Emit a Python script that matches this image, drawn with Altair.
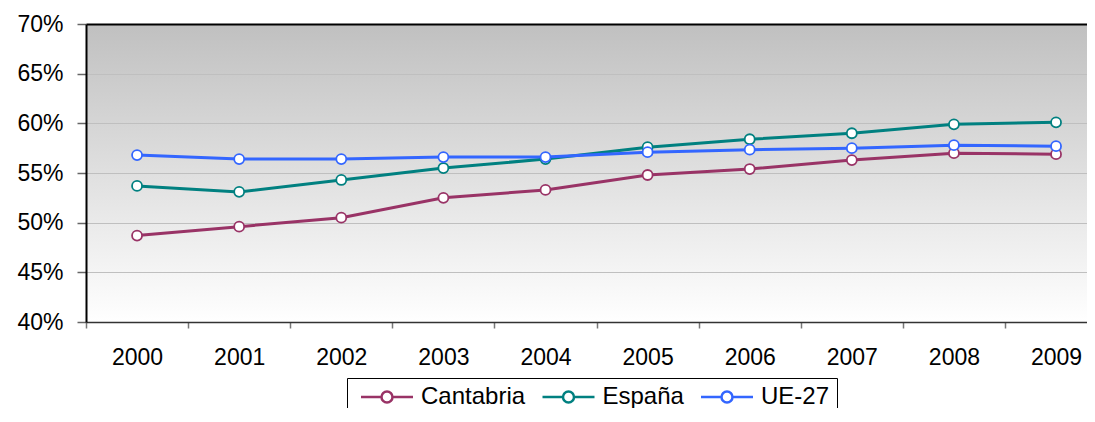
import altair as alt
import pandas as pd

years = [2000, 2001, 2002, 2003, 2004, 2005, 2006, 2007, 2008, 2009]
cantabria = [48.7, 49.6, 50.5, 52.5, 53.3, 54.8, 55.4, 56.3, 57.0, 56.9]
espana = [53.7, 53.1, 54.3, 55.5, 56.4, 57.6, 58.4, 59.0, 59.9, 60.1]
ue27 = [56.8, 56.4, 56.4, 56.6, 56.6, 57.1, 57.35, 57.5, 57.8, 57.7]
series_names = ["Cantabria", "España", "UE-27"]
series_colors = ["#993366", "#008080", "#3366FF"]
y_ticks = [40, 45, 50, 55, 60, 65, 70]
# category boundaries (ticks sit between years)
x_ticks = [y - 0.5 for y in years]

rows = []
for name, vals in zip(series_names, [cantabria, espana, ue27]):
    for yr, v in zip(years, vals):
        rows.append({"year": yr, "value": v, "series": name})
df = pd.DataFrame(rows)

FONT = "Liberation Sans"
BAND = 102.11          # pixel width of one year
VIEW_W = 1001          # visible plot width (reference is cropped on the right)

legend_path = ("M-1,0 L3.1,0 M5.3,0 L9.4,0 "
               "M5.3,0 A1.1,1.1 0 1,1 3.1,0 A1.1,1.1 0 1,1 5.3,0 Z")

yscale = alt.Scale(domain=[40, 70], nice=False, zero=False)
xscale = alt.Scale(domain=[years[0] - 0.5, years[0] - 0.5 + VIEW_W / BAND], nice=False, zero=False)

lines = alt.Chart(df).mark_line(
    strokeWidth=3,
    point=alt.OverlayMarkDef(filled=False, fill="white", size=100, strokeWidth=1.8),
).encode(
    x=alt.X("year:Q", scale=xscale,
            axis=alt.Axis(title=None, values=x_ticks, labelExpr="'' + (datum.value + 0.5)",
                          labelOffset=BAND / 2, labelFlush=False, labelOverlap=False,
                          labelAngle=0, tickSize=6,
                          tickColor="#777777", tickWidth=1.5, domainColor="#333333",
                          domainWidth=1.5, labelPadding=18, labelFont=FONT,
                          labelFontSize=23, labelColor="black", grid=False)),
    y=alt.Y("value:Q", scale=yscale,
            axis=alt.Axis(values=y_ticks, labelExpr="datum.value + '%'", title=None,
                          grid=True,
                          gridColor=alt.condition("datum.value == 70", alt.value("black"), alt.value("#bfbfbf")),
                          gridWidth=alt.condition("datum.value == 70", alt.value(2), alt.value(1)),
                          domainColor="black", domainWidth=2, tickColor="#666666",
                          tickWidth=1.5, tickSize=9, labelPadding=14, labelFont=FONT,
                          labelFontSize=23, labelColor="black")),
    color=alt.Color("series:N", sort=series_names,
                    scale=alt.Scale(domain=series_names, range=series_colors),
                    legend=alt.Legend(title=None, orient="none", legendX=261, legendY=354,
                                      direction="horizontal", symbolType=legend_path,
                                      symbolSize=100, symbolStrokeWidth=2.5,
                                      symbolFillColor="white", labelFont=FONT,
                                      labelFontSize=24, labelColor="black",
                                      labelOffset=43, columnPadding=9.5, padding=7,
                                      strokeColor="black")),
)

chart = lines.properties(
    width=VIEW_W, height=298,
    autosize=alt.AutoSizeParams(type="none"),
    padding={"left": 78, "top": 16, "right": 0, "bottom": 86},
).configure_view(
    strokeWidth=0,
    fill={"expr": "{gradient: 'linear', x1: 0, y1: 0, x2: 0, y2: 1, stops: [{offset: 0, color: '#c0c0c0'}, {offset: 1, color: '#ffffff'}]}"},
)

chart.save("out.html", embed_options={"renderer": "svg", "actions": False})
